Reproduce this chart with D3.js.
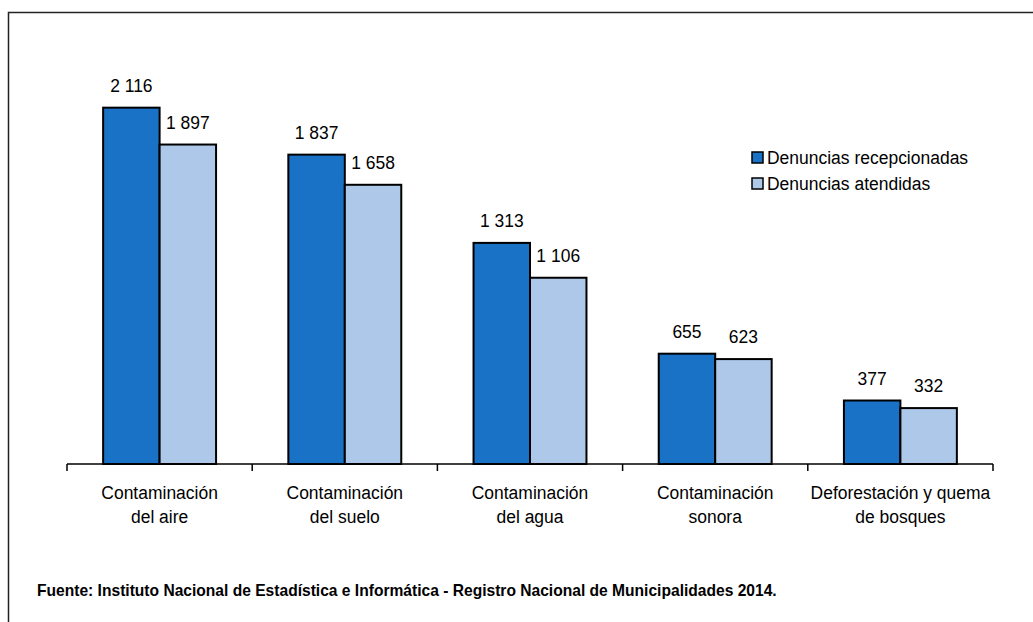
<!DOCTYPE html>
<html>
<head>
<meta charset="utf-8">
<script src="https://cdn.jsdelivr.net/npm/d3@7"></script>
<style>
body { margin: 0; background: #fff; }
text { font-family: "Liberation Sans", Arial, sans-serif; fill: #000; }
</style>
</head>
<body>
<script>
var categories = [
  ["Contaminación", "del aire"],
  ["Contaminación", "del suelo"],
  ["Contaminación", "del agua"],
  ["Contaminación", "sonora"],
  ["Deforestación y quema", "de bosques"]
];
var recepcionadas = [2116, 1837, 1313, 655, 377];
var atendidas = [1897, 1658, 1106, 623, 332];
var seriesNames = ["Denuncias recepcionadas", "Denuncias atendidas"];
var colors = ["#1a72c7", "#adc8e8"];

var width = 1033, height = 622;
var sx = 0.92; // narrow look of the original font
var fmt = function(v) { return d3.format(",")(v).replace(",", " "); };
function place(x, y, s) { return "translate(" + x + "," + y + ") scale(" + (s || sx) + ",1)"; }

var svg = d3.select("body").append("svg")
    .attr("width", width)
    .attr("height", height);

// frame
svg.append("rect")
    .attr("x", 8.5).attr("y", 12.5)
    .attr("width", 1040).attr("height", 640)
    .attr("fill", "none").attr("stroke", "#222").attr("stroke-width", 1.5);

var x0 = d3.scaleBand().domain(d3.range(categories.length)).range([67, 993]).paddingInner(0).paddingOuter(0);
var x1 = d3.scaleBand().domain([0, 1]).range([0, x0.bandwidth()]).paddingInner(0).paddingOuter(0.64);
var y = d3.scaleLinear().domain([0, 2500]).range([464, 43]);

var groups = svg.selectAll(".grp")
    .data(categories.map(function(c, i) { return [recepcionadas[i], atendidas[i]]; }))
  .enter().append("g")
    .attr("class", "grp")
    .attr("transform", function(d, i) { return "translate(" + x0(i) + ",0)"; });

groups.selectAll("rect")
    .data(function(d) { return d; })
  .enter().append("rect")
    .attr("x", function(d, j) { return x1(j); })
    .attr("y", function(d) { return y(d); })
    .attr("width", x1.bandwidth())
    .attr("height", function(d) { return y(0) - y(d); })
    .attr("fill", function(d, j) { return colors[j]; })
    .attr("stroke", "#000").attr("stroke-width", 2);

groups.selectAll(".lbl")
    .data(function(d) { return d; })
  .enter().append("text")
    .attr("class", "lbl")
    .attr("transform", function(d, j) { return place(x1(j) + x1.bandwidth() / 2, y(d) - 16); })
    .attr("text-anchor", "middle")
    .style("font-size", "19px")
    .text(fmt);

// axis
var axis = svg.append("g")
    .attr("transform", "translate(0," + y(0) + ")");
axis.append("line")
    .attr("x1", 67).attr("x2", 993)
    .attr("stroke", "#000").attr("stroke-width", 1.5);
axis.selectAll(".tick")
    .data(d3.range(categories.length + 1))
  .enter().append("line")
    .attr("x1", function(i) { return i < categories.length ? x0(i) : x0(i - 1) + x0.bandwidth(); })
    .attr("x2", function(i) { return i < categories.length ? x0(i) : x0(i - 1) + x0.bandwidth(); })
    .attr("y1", 0).attr("y2", 7)
    .attr("stroke", "#000").attr("stroke-width", 1.5);

var catText = svg.selectAll(".cat")
    .data(categories)
  .enter().append("text")
    .attr("class", "cat")
    .attr("text-anchor", "middle")
    .attr("transform", function(d, i) { return place(x0(i) + x0.bandwidth() / 2, 499); })
    .style("font-size", "19px");
catText.selectAll("tspan")
    .data(function(d) { return d; })
  .enter().append("tspan")
    .attr("x", 0)
    .attr("dy", function(d, k) { return k === 0 ? 0 : 24; })
    .text(function(d) { return d; });

// legend
var legend = svg.selectAll(".leg")
    .data(seriesNames)
  .enter().append("g")
    .attr("class", "leg")
    .attr("transform", function(d, i) { return "translate(752," + (152 + i * 26) + ")"; });
legend.append("rect")
    .attr("width", 11).attr("height", 11)
    .attr("fill", function(d, i) { return colors[i]; })
    .attr("stroke", "#000").attr("stroke-width", 1.5);
legend.append("text")
    .attr("transform", place(15, 12))
    .style("font-size", "19px")
    .text(function(d) { return d; });

// source
svg.append("text")
    .attr("transform", place(37, 596, 0.945))
    .style("font-size", "16.5px")
    .style("font-weight", "bold")
    .text("Fuente: Instituto Nacional de Estadística e Informática - Registro Nacional de Municipalidades 2014.");
</script>
</body>
</html>
